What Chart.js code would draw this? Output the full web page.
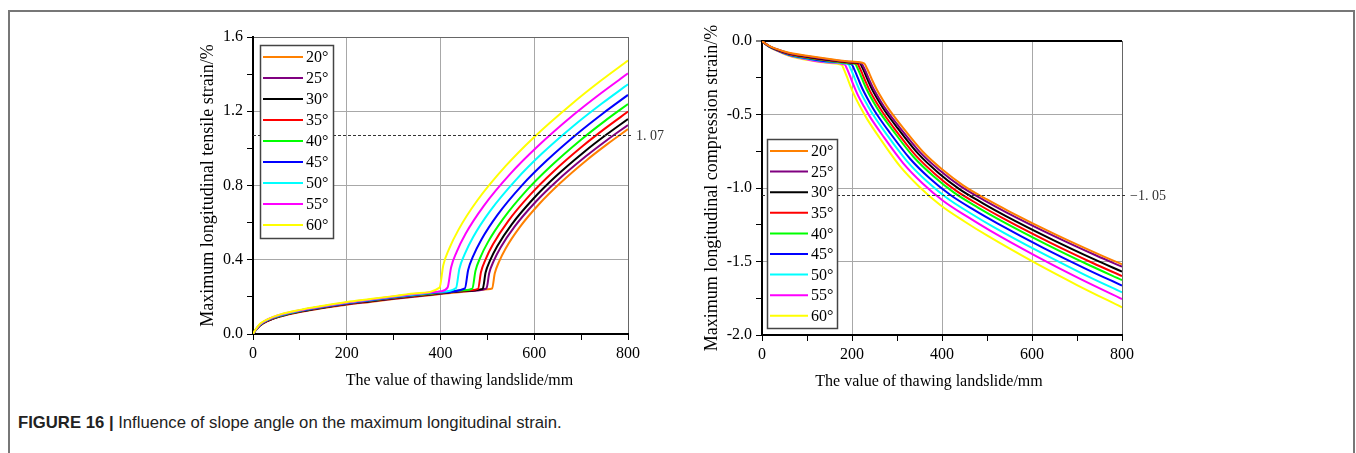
<!DOCTYPE html>
<html>
<head>
<meta charset="utf-8">
<script src="https://cdn.jsdelivr.net/npm/chart.js@4.4.1/dist/chart.umd.min.js"></script>
<style>
  body { margin: 0; background: #fff; }
  #page { position: relative; width: 1356px; height: 453px; overflow: hidden; background: #fff; }
  #frame { position: absolute; left: 8px; top: 10px; width: 1343px; height: 460px; border: 2px solid #777; border-bottom: none; }
  canvas { position: absolute; }
  #caption { position: absolute; left: 18px; top: 413px; font: 16.7px "Liberation Sans", Arial, sans-serif; color: #222; white-space: nowrap; }
  #caption b { font-weight: bold; }
</style>
</head>
<body>
<div id="page">
  <div id="frame"></div>
  <canvas id="tensileChart" width="530" height="380" style="left:150px; top:20px;"></canvas>
  <canvas id="compressChart" width="560" height="380" style="left:650px; top:20px;"></canvas>
  <div id="caption"><b>FIGURE 16 |</b> Influence of slope angle on the maximum longitudinal strain.</div>
</div>
<script>
const ANGLES = ["20°", "25°", "30°", "35°", "40°", "45°", "50°", "55°", "60°"];
const COLORS = ["#FF8000", "#800080", "#000000", "#FF0000", "#00FF00", "#0000FF", "#00FFFF", "#FF00FF", "#FFFF00"];

// limit lines
const TENSILE_LIMIT = 1.07;
const COMPRESS_LIMIT = -1.05;

// left chart: maximum longitudinal tensile strain (%), one x/y list per angle
const tensileX = [
    [0, 5, 15, 30, 60, 100, 150, 200, 250, 300, 350, 400, 450, 500, 510, 515.8, 524.5, 539, 568, 611.5, 655, 713, 756.5, 800],
    [0, 5, 15, 30, 60, 100, 150, 200, 250, 300, 350, 400, 450, 498, 504, 513.1, 528.2, 558.4, 603.7, 649, 709.4, 754.7, 800],
    [0, 5, 15, 30, 60, 100, 150, 200, 250, 300, 350, 400, 450, 490, 496.2, 505.5, 521, 552, 598.5, 645, 707, 753.5, 800],
    [0, 5, 15, 30, 60, 100, 150, 200, 250, 300, 350, 400, 450, 480, 486.4, 496, 512, 544, 592, 640, 704, 752, 800],
    [0, 5, 15, 30, 60, 100, 150, 200, 250, 300, 350, 400, 450, 468, 474.6, 484.6, 501.2, 534.4, 584.2, 634, 700.4, 750.2, 800],
    [0, 5, 15, 30, 60, 100, 150, 200, 250, 300, 350, 400, 452, 459, 469.4, 486.8, 521.6, 573.8, 626, 695.6, 747.8, 800],
    [0, 5, 15, 30, 60, 100, 150, 200, 250, 300, 350, 400, 433, 440.3, 451.4, 469.7, 506.4, 561.5, 616.5, 689.9, 745, 800],
    [0, 5, 15, 30, 60, 100, 150, 200, 250, 300, 350, 400, 415, 422.7, 434.3, 453.5, 492, 549.8, 607.5, 684.5, 742.3, 800],
    [0, 5, 15, 30, 60, 100, 150, 200, 250, 300, 350, 398, 406, 418.1, 438.2, 478.4, 538.7, 599, 679.4, 739.7, 800]
];
const tensileY = [
    [0, .018, .045, .068, .095, .118, .140, .158, .173, .188, .202, .215, .228, .241, .245, .327, .387, .461, .572, .703, .812, .939, 1.024, 1.104],
    [0, .018, .046, .069, .096, .120, .142, .160, .175, .190, .204, .217, .230, .245, .329, .391, .466, .580, .714, .826, .956, 1.044, 1.126],
    [0, .019, .047, .070, .098, .121, .143, .162, .177, .192, .206, .219, .232, .243, .331, .395, .473, .591, .730, .847, .982, 1.073, 1.158],
    [0, .019, .048, .071, .099, .123, .145, .163, .179, .194, .208, .221, .234, .243, .334, .401, .483, .607, .752, .873, 1.014, 1.109, 1.198],
    [0, .020, .049, .073, .100, .124, .146, .165, .181, .196, .210, .223, .236, .245, .340, .410, .495, .623, .775, .901, 1.048, 1.147, 1.239],
    [0, .020, .050, .074, .102, .125, .147, .166, .182, .198, .212, .225, .245, .345, .418, .507, .642, .801, .933, 1.087, 1.191, 1.288],
    [0, .021, .051, .076, .103, .127, .149, .168, .184, .200, .214, .227, .247, .352, .429, .523, .665, .832, .972, 1.134, 1.243, 1.345],
    [0, .021, .053, .077, .105, .128, .150, .170, .186, .202, .217, .230, .250, .360, .441, .540, .689, .865, 1.011, 1.182, 1.297, 1.404],
    [0, .022, .055, .078, .107, .130, .152, .172, .188, .204, .220, .250, .371, .457, .561, .719, .904, 1.059, 1.238, 1.360, 1.473]
];

// right chart: maximum longitudinal compression strain (%)
const compressX = [
    [0, 5, 15, 30, 60, 100, 150, 200, 227, 232, 238, 246, 255, 270, 283, 310, 357, 400, 446, 500, 550, 653, 750, 800],
    [0, 5, 15, 30, 60, 100, 150, 200, 221, 226, 232, 240, 249, 264, 277, 304, 351, 394, 440, 494, 544, 647, 744, 800],
    [0, 5, 15, 30, 60, 100, 150, 200, 218, 223, 229, 237, 246, 261, 274, 301, 348, 391, 437, 491, 541, 644, 741, 800],
    [0, 5, 15, 30, 60, 100, 150, 200, 212, 217, 223, 231, 240, 255, 268, 295, 342, 385, 431, 485, 535, 638, 735, 800],
    [0, 5, 15, 30, 60, 100, 150, 200, 207, 212, 218, 226, 235, 250, 263, 290, 337, 380, 426, 480, 530, 633, 730, 800],
    [0, 5, 15, 30, 60, 100, 150, 199, 204, 210, 218, 227, 242, 255, 282, 329, 372, 418, 472, 522, 625, 722, 800],
    [0, 5, 15, 30, 60, 100, 150, 192, 197, 203, 211, 220, 235, 248, 275, 322, 365, 411, 465, 515, 618, 715, 800],
    [0, 5, 15, 30, 60, 100, 150, 184, 189, 195, 203, 212, 227, 240, 267, 314, 357, 403, 457, 507, 610, 707, 800],
    [0, 5, 15, 30, 60, 100, 150, 177, 182, 188, 196, 205, 220, 233, 260, 307, 350, 396, 450, 500, 603, 700, 800]
];
const compressY = [
    [0, -.012, -.032, -.052, -.080, -.100, -.122, -.140, -.152, -.178, -.217, -.274, -.330, -.408, -.469, -.578, -.752, -.873, -.980, -1.078, -1.160, -1.317, -1.453, -1.519],
    [0, -.012, -.033, -.053, -.083, -.104, -.126, -.143, -.153, -.179, -.219, -.275, -.332, -.411, -.472, -.581, -.756, -.878, -.986, -1.084, -1.167, -1.324, -1.461, -1.535],
    [0, -.013, -.033, -.055, -.085, -.107, -.129, -.146, -.154, -.181, -.221, -.279, -.337, -.417, -.480, -.591, -.770, -.894, -1.004, -1.104, -1.189, -1.349, -1.489, -1.569],
    [0, -.013, -.034, -.056, -.088, -.111, -.133, -.149, -.155, -.182, -.223, -.282, -.341, -.422, -.485, -.599, -.780, -.906, -1.018, -1.119, -1.205, -1.368, -1.510, -1.599],
    [0, -.013, -.035, -.057, -.090, -.114, -.136, -.153, -.156, -.184, -.225, -.284, -.344, -.427, -.491, -.605, -.789, -.917, -1.030, -1.133, -1.220, -1.385, -1.529, -1.626],
    [0, -.013, -.036, -.058, -.093, -.118, -.140, -.158, -.186, -.228, -.289, -.349, -.433, -.498, -.615, -.801, -.932, -1.046, -1.151, -1.239, -1.407, -1.553, -1.664],
    [0, -.014, -.036, -.059, -.095, -.121, -.143, -.159, -.188, -.231, -.293, -.355, -.440, -.507, -.627, -.817, -.951, -1.068, -1.175, -1.266, -1.437, -1.587, -1.710],
    [0, -.014, -.037, -.061, -.098, -.125, -.147, -.161, -.190, -.234, -.297, -.361, -.448, -.516, -.638, -.832, -.969, -1.088, -1.197, -1.290, -1.465, -1.618, -1.755],
    [0, -.014, -.038, -.062, -.100, -.128, -.150, -.163, -.193, -.238, -.303, -.368, -.458, -.528, -.653, -.853, -.993, -1.116, -1.228, -1.323, -1.503, -1.660, -1.812]
];

const SERIF = "'Liberation Serif', 'Times New Roman', serif";
const X_TITLE = "The value of thawing landslide/mm";

function isMajor(v, step) {
    return Math.abs(Math.round(v / step) * step - v) < 1e-6;
}

function buildDatasets(xs, ys, yellowOnTop) {
    return ANGLES.map((label, i) => ({
        label: label,
        data: xs[i].map((x, j) => ({ x: x, y: ys[i][j] })),
        borderColor: COLORS[i],
        borderWidth: 2,
        pointRadius: 0,
        fill: false,
        cubicInterpolationMode: "monotone",
        order: yellowOnTop ? ANGLES.length - 1 - i : i
    }));
}

// dashed limit line + label, x title, and the boxed legend inside the plot
function overlayPlugin(cfg) {
    return {
        id: "overlay",
        afterDatasetsDraw(chart) {
            const ctx = chart.ctx;
            const area = chart.chartArea;
            const y = Math.round(chart.scales.y.getPixelForValue(cfg.limit)) + 0.5;
            ctx.save();
            ctx.strokeStyle = "#333";
            ctx.lineWidth = 1;
            ctx.setLineDash([3, 2]);
            ctx.beginPath();
            ctx.moveTo(area.left, y);
            ctx.lineTo(area.right + 5, y);
            ctx.stroke();
            ctx.setLineDash([]);
            ctx.fillStyle = "#333";
            ctx.font = "14px " + SERIF;
            ctx.textBaseline = "middle";
            ctx.fillText(cfg.limitText, area.right + 8, y + 1);

            // x axis title
            ctx.fillStyle = "#000";
            ctx.font = "16px " + SERIF;
            ctx.textAlign = "center";
            ctx.fillText(X_TITLE, (area.left + area.right) / 2 + cfg.xTitleDx, area.bottom + 47);
            ctx.textAlign = "left";

            const lg = cfg.legend;
            const lx = area.left + lg.dx;
            const ly = area.top + lg.dy;
            ctx.fillStyle = "#fff";
            ctx.fillRect(lx, ly, lg.w, lg.h);
            ctx.strokeStyle = "#444";
            ctx.lineWidth = 1.5;
            ctx.strokeRect(lx + 0.5, ly + 0.5, lg.w, lg.h);
            ctx.font = "16px " + SERIF;
            ANGLES.forEach((a, i) => {
                const ey = ly + lg.first + i * lg.gap;
                ctx.strokeStyle = COLORS[i];
                ctx.lineWidth = 2;
                ctx.beginPath();
                ctx.moveTo(lx + 3, ey);
                ctx.lineTo(lx + lg.line, ey);
                ctx.stroke();
                ctx.fillStyle = "#000";
                ctx.fillText(a, lx + lg.line + 3, ey + 1);
            });
            ctx.restore();
        }
    };
}

function axisOptions(opts) {
    return {
        type: "linear",
        min: opts.min,
        max: opts.max,
        afterFit: opts.afterFit,
        border: { color: "#000", width: 2 },
        grid: {
            color: c => {
                const v = c.tick ? c.tick.value : 0;
                if (!isMajor(v, opts.major)) return "rgba(0,0,0,0)";
                if (opts.darkAt !== undefined && Math.abs(v - opts.darkAt) < 1e-6) return "#000";
                if (Math.abs(v - opts.edge) < 1e-6) return "#666";
                return "#a8a8a8";
            },
            lineWidth: c => (opts.darkAt !== undefined && c.tick && Math.abs(c.tick.value - opts.darkAt) < 1e-6) ? 2 : 1,
            tickColor: "#000",
            tickLength: 6,
            tickWidth: 1
        },
        ticks: {
            stepSize: opts.step,
            autoSkip: false,
            maxRotation: 0,
            padding: 4,
            color: "#000",
            font: { family: SERIF, size: 16 },
            callback: v => isMajor(v, opts.major) ? (opts.decimals ? v.toFixed(1) : String(v)) : ""
        },
        title: {
            display: !!opts.title,
            text: opts.title || "",
            color: "#000",
            padding: 0,
            font: { family: SERIF, size: 18, lineHeight: 1.2 }
        }
    };
}

function makeChart(id, xs, ys, cfg) {
    return new Chart(document.getElementById(id).getContext("2d"), {
        type: "line",
        data: { datasets: buildDatasets(xs, ys, cfg.yellowOnTop) },
        options: {
            responsive: false,
            animation: false,
            layout: { padding: cfg.padding },
            plugins: { legend: { display: false }, tooltip: { enabled: false } },
            scales: {
                x: axisOptions({
                    min: 0, max: 800, step: 100, major: 200, edge: 800,
                    afterFit: s => { s.height = cfg.xHeight; }
                }),
                y: axisOptions({
                    min: cfg.yMin, max: cfg.yMax, step: cfg.yStep, major: cfg.yMajor,
                    edge: cfg.yEdge, darkAt: cfg.darkAt, decimals: true,
                    title: cfg.yTitle,
                    afterFit: s => { s.width = cfg.yWidth; }
                })
            }
        },
        plugins: [overlayPlugin(cfg)]
    });
}

makeChart("tensileChart", tensileX, tensileY, {
    yellowOnTop: true,
    padding: { left: 47, top: 17, right: 52, bottom: 9 },
    xHeight: 57, yWidth: 56,
    yMin: 0, yMax: 1.6, yStep: 0.2, yMajor: 0.4, yEdge: 1.6,
    yTitle: "Maximum longitudinal tensile strain/%",
    limit: TENSILE_LIMIT, limitText: "1. 07", xTitleDx: 19,
    legend: { dx: 7, dy: 8, w: 73, h: 193, first: 12, gap: 21, line: 43 }
});

makeChart("compressChart", compressX, compressY, {
    yellowOnTop: false,
    padding: { left: 51, top: 21, right: 88, bottom: 9 },
    xHeight: 56, yWidth: 61,
    yMin: -2, yMax: 0, yStep: 0.25, yMajor: 0.5, yEdge: -99, darkAt: 0,
    yTitle: "Maximum longitudinal compression strain/%",
    limit: COMPRESS_LIMIT, limitText: "\u22121. 05", xTitleDx: -13,
    legend: { dx: 5, dy: 98, w: 70, h: 189, first: 12, gap: 20.6, line: 41 }
});
</script>
</body>
</html>
